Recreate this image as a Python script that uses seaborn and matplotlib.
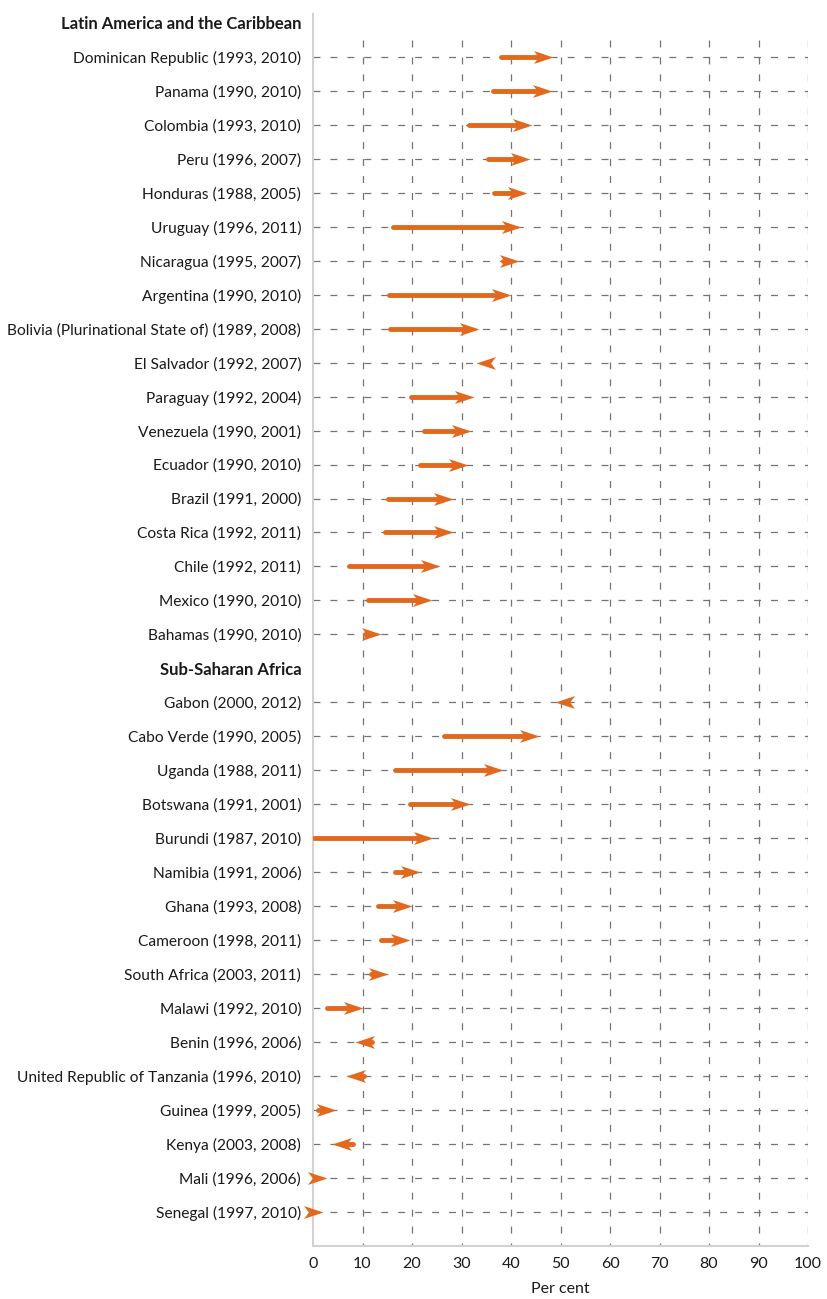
import matplotlib
matplotlib.use("Agg")
import matplotlib.pyplot as plt
from matplotlib.path import Path
import seaborn as sns
import pandas as pd

# ---------------- data ----------------
latam_names = [
    "Dominican Republic (1993, 2010)", "Panama (1990, 2010)", "Colombia (1993, 2010)",
    "Peru (1996, 2007)", "Honduras (1988, 2005)", "Uruguay (1996, 2011)",
    "Nicaragua (1995, 2007)", "Argentina (1990, 2010)",
    "Bolivia (Plurinational State of) (1989, 2008)", "El Salvador (1992, 2007)",
    "Paraguay (1992, 2004)", "Venezuela (1990, 2001)", "Ecuador (1990, 2010)",
    "Brazil (1991, 2000)", "Costa Rica (1992, 2011)", "Chile (1992, 2011)",
    "Mexico (1990, 2010)", "Bahamas (1990, 2010)",
]
latam_start = [38.0, 36.3, 31.5, 35.3, 36.6, 16.1, 38.3, 15.4, 15.5, 36.0,
               19.8, 22.4, 21.6, 15.2, 14.5, 7.3, 11.2, 10.5]
latam_end = [48.5, 48.3, 44.3, 43.8, 43.3, 42.0, 41.7, 39.9, 33.5, 33.0,
             32.5, 32.0, 31.3, 28.3, 28.2, 25.7, 24.1, 13.8]

ssa_names = [
    "Gabon (2000, 2012)", "Cabo Verde (1990, 2005)", "Uganda (1988, 2011)",
    "Botswana (1991, 2001)", "Burundi (1987, 2010)", "Namibia (1991, 2006)",
    "Ghana (1993, 2008)", "Cameroon (1998, 2011)", "South Africa (2003, 2011)",
    "Malawi (1992, 2010)", "Benin (1996, 2006)",
    "United Republic of Tanzania (1996, 2010)", "Guinea (1999, 2005)",
    "Kenya (2003, 2008)", "Mali (1996, 2006)", "Senegal (1997, 2010)",
]
ssa_start = [51.8, 26.4, 16.5, 19.6, 0.2, 16.5, 13.2, 13.7, 11.8, 2.8,
             12.0, 10.3, 1.0, 8.0, 0.2, 0.3]
ssa_end = [48.8, 45.6, 38.4, 31.8, 24.3, 21.6, 19.9, 19.6, 15.2, 10.1,
           8.5, 6.7, 4.6, 3.8, 2.9, 2.1]

headings = ["Latin America and the Caribbean", "Sub-Saharan Africa"]
x_ticks = [0, 10, 20, 30, 40, 50, 60, 70, 80, 90, 100]
x_label = "Per cent"

# ---------------- layout of rows ----------------
labels = [headings[0]] + latam_names + [headings[1]] + ssa_names
n_rows = len(labels)
rows = []
r = 1
for _ in latam_names:
    rows.append(r); r += 1
r += 1
for _ in ssa_names:
    rows.append(r); r += 1
df = pd.DataFrame({
    "name": latam_names + ssa_names,
    "start": latam_start + ssa_start,
    "end": latam_end + ssa_end,
    "row": rows,
})
df["dir"] = (df["end"] >= df["start"]).map({True: "right", False: "left"})

# ---------------- style ----------------
sns.set_theme(style="white")
plt.rcParams["font.family"] = ["Lato", "DejaVu Sans"]
plt.rcParams["lines.scale_dashes"] = False

ORANGE = "#E1681D"
GRID = "#7a7272"
SPINE = "#d2d2d2"
TXT = "#1a1a1a"

W, H = 827, 1299
fig = plt.figure(figsize=(W / 100, H / 100), dpi=100)
x0, x1 = 313, 808
ytop, ybot = 14, 1246
ax = fig.add_axes([x0 / W, 1 - ybot / H, (x1 - x0) / W, (ybot - ytop) / H])
ax.set_xlim(0, 100)
ax.set_ylim(n_rows, -0.26)

# grid
dash = (0, (5, 7.2))
ax.hlines(df["row"], 0, 100, colors=GRID, linewidth=0.9, linestyles=[dash], zorder=1)
ax.vlines(x_ticks[1:], 0.5, n_rows, colors=GRID, linewidth=0.9, linestyles=[dash], zorder=1)

# arrows
px_per_unit = (x1 - x0) / 100
head_px = 19.5
head_len = head_px / px_per_unit
notch = 0.75 * head_len
sign = df["dir"].map({"right": 1, "left": -1})
line_end = df["end"] - sign * notch
lc = ax.hlines(df["row"], df["start"], line_end, colors=ORANGE,
               linewidth=3.5, zorder=3)
lc.set_capstyle("round")

right_head = Path([(0, 0), (-1, 0.33), (-0.75, 0), (-1, -0.33), (0, 0)],
                  [Path.MOVETO, Path.LINETO, Path.LINETO, Path.LINETO, Path.CLOSEPOLY])
left_head = Path([(0, 0), (1, 0.33), (0.75, 0), (1, -0.33), (0, 0)],
                 [Path.MOVETO, Path.LINETO, Path.LINETO, Path.LINETO, Path.CLOSEPOLY])
msize = 2 * head_px * 72 / 100
for d, pth in (("right", right_head), ("left", left_head)):
    sub = df[df["dir"] == d]
    sns.scatterplot(data=sub, x="end", y="row", marker=pth, s=msize ** 2,
                    color=ORANGE, linewidth=0, ax=ax, zorder=4, clip_on=False,
                    legend=False)

# axes cosmetics
ax.set_yticks(range(n_rows))
ax.set_yticklabels(labels)
ax.tick_params(axis="y", length=0, pad=8.5, labelsize=11.2, labelcolor=TXT)
ax.tick_params(axis="x", length=0, pad=8, labelsize=11.5, labelcolor=TXT)
for t in ax.get_yticklabels():
    if t.get_text() in headings:
        t.set_fontweight("bold")
        t.set_fontsize(12)
ax.set_xticks(x_ticks)
ax.set_xticklabels([str(v) for v in x_ticks])
ax.set_xlabel(x_label, fontsize=11.5, color=TXT, labelpad=8)
ax.set_ylabel("")
for s in ("top", "right"):
    ax.spines[s].set_visible(False)
for s in ("left", "bottom"):
    ax.spines[s].set_color(SPINE)
    ax.spines[s].set_linewidth(1.5)
ax.grid(False)

fig.savefig("out.png", dpi=100)
